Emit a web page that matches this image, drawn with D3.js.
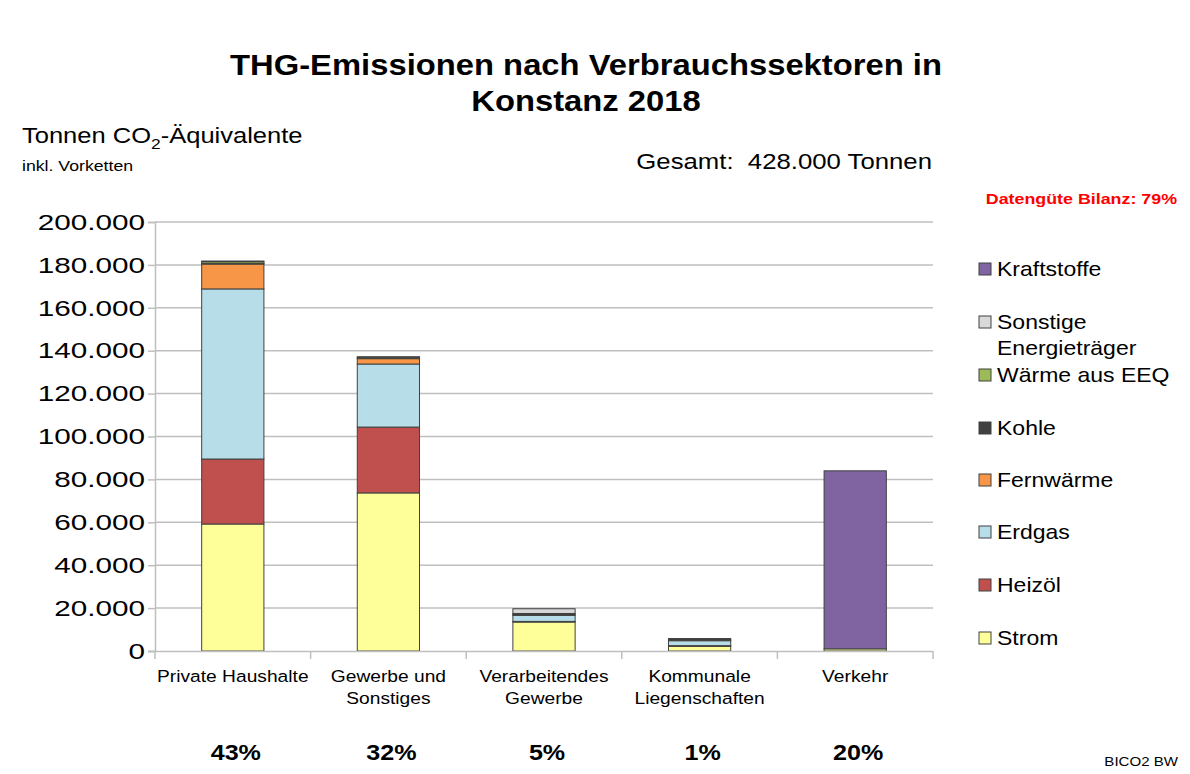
<!DOCTYPE html>
<html><head><meta charset="utf-8">
<script src="https://cdn.jsdelivr.net/npm/d3@7"></script>
<style>body{margin:0;background:#fff}svg{display:block;font-family:Arial,"Liberation Sans",sans-serif}</style>
</head><body><svg id="c" width="1190" height="774"></svg>
<script>
const categories = [["Private Haushalte"],["Gewerbe und","Sonstiges"],["Verarbeitendes","Gewerbe"],["Kommunale","Liegenschaften"],["Verkehr"]];
const catKeys = ["PH","GS","VG","KL","VK"];
const seriesNames = ["Strom","Heizöl","Erdgas","Fernwärme","Kohle","Wärme aus EEQ","Sonstige Energieträger","Kraftstoffe"];
const strom       = [59200, 73700, 13500, 2200, 1000];
const heizoel     = [30300, 30700,   300,  300,    0];
const erdgas      = [79300, 29400,  2800, 2300,    0];
const fernwaerme  = [11600,  2500,   500,  500,    0];
const kohle       = [  300,   200,   400,  500,    0];
const waermeEEQ   = [  800,   400,     0,    0,    0];
const sonstige    = [  300,   300,  2200,    0,    0];
const kraftstoffe = [    0,     0,     0,    0, 83000];
const seriesColors = ["#FFFF99","#C0504D","#B7DEE8","#F79646","#404040","#9BBB59","#D9D9D9","#8064A2"];
const percentLabels = ["43%","32%","5%","1%","20%"];
const yTicks = [0,20000,40000,60000,80000,100000,120000,140000,160000,180000,200000];

const seriesValues = [strom,heizoel,erdgas,fernwaerme,kohle,waermeEEQ,sonstige,kraftstoffe];
const rows = catKeys.map((k,i)=>{const r={key:k};seriesNames.forEach((s,j)=>r[s]=seriesValues[j][i]);return r;});
const stack = d3.stack().keys(seriesNames)(rows);

const svg = d3.select("#c");
const SX = 1.16;
function txt(x,y,str,size,opts={}){
  const t = svg.append("text").attr("transform",`translate(${x},${y}) scale(${opts.sx||SX},1)`)
    .attr("font-size",size).attr("text-anchor",opts.anchor||"start").style("white-space","pre");
  if(opts.bold) t.attr("font-weight","bold");
  if(opts.fill) t.attr("fill",opts.fill);
  if(str!==null) t.text(str);
  return t;
}
const L=155,R=933,T=222,B=651;
const x = d3.scaleBand().domain(catKeys).range([L,R]).paddingInner(0.6).paddingOuter(0.3);
const y = d3.scaleLinear().domain([0,200000]).range([B,T]);
const fmt = v => d3.format(",")(v).replace(/,/g,".");

// title
txt(586,75,"THG-Emissionen nach Verbrauchssektoren in",29,{anchor:"middle",bold:true,sx:1.13});
txt(586,111,"Konstanz 2018",29,{anchor:"middle",bold:true,sx:1.13});

// y unit label
const yl = txt(22,143,null,22);
yl.append("tspan").text("Tonnen CO");
yl.append("tspan").attr("font-size",15).attr("dy",6).text("2");
yl.append("tspan").attr("dy",-6).text("-Äquivalente");
txt(22,171,"inkl. Vorketten",15,{sx:1.18});
txt(932,169,"Gesamt:\u00A0\u00A0428.000 Tonnen",22,{anchor:"end",sx:1.17});
txt(1177,204,"Datengüte Bilanz: 79%",15,{anchor:"end",bold:true,fill:"#FF0000",sx:1.19});

// gridlines
svg.append("g").selectAll("line").data(yTicks.filter(d=>d>0)).join("line")
  .attr("x1",L).attr("x2",R).attr("y1",d=>y(d)).attr("y2",d=>y(d)).attr("stroke","#BFBFBF").attr("stroke-width",1.5);

// y axis
const ya = svg.append("g").attr("transform",`translate(${L},0)`).call(d3.axisLeft(y).tickValues(yTicks).tickFormat(fmt).tickSize(7).tickPadding(4));
ya.selectAll("path,line").attr("stroke","#BFBFBF").attr("stroke-width",1.5);
ya.selectAll("text").attr("font-size",22.5).attr("fill","#000").attr("font-family","Arial, Liberation Sans, sans-serif")
  .attr("x",null).attr("transform","translate(-10,0) scale(1.32,1)");

// bars
svg.append("g").selectAll("g").data(stack).join("g").attr("fill",(d,i)=>seriesColors[i])
  .selectAll("rect").data(d=>d.filter(p=>p[1]-p[0]>0)).join("rect")
  .attr("x",d=>x(d.data.key)).attr("width",x.bandwidth())
  .attr("y",d=>y(d[1])).attr("height",d=>y(d[0])-y(d[1]))
  .attr("stroke","#404040").attr("stroke-width",1);

// x axis
svg.append("line").attr("x1",L-7).attr("x2",R).attr("y1",B+0.5).attr("y2",B+0.5).attr("stroke","#BFBFBF").attr("stroke-width",1.5);
svg.append("g").selectAll("line").data(d3.range(catKeys.length+1)).join("line")
  .attr("x1",i=>L+i*(R-L)/catKeys.length).attr("x2",i=>L+i*(R-L)/catKeys.length)
  .attr("y1",B).attr("y2",B+8).attr("stroke","#BFBFBF").attr("stroke-width",1.5);
catKeys.forEach((k,i)=>{
  const cx = x(k)+x.bandwidth()/2;
  categories[i].forEach((line,j)=>txt(cx,682+j*22,line,17,{anchor:"middle",sx:1.13}));
  txt(cx+3,760,percentLabels[i],22,{anchor:"middle",bold:true,sx:1.14});
});

// legend
const legY = [269,322,375,428,480,532,585,638];
const legOrder = seriesNames.map((s,i)=>i).reverse();
legOrder.forEach((si,j)=>{
  const yy = legY[j];
  svg.append("rect").attr("x",979).attr("y",yy-6).attr("width",12).attr("height",12).attr("fill",seriesColors[si]).attr("stroke","#404040").attr("stroke-width",1);
  const name = seriesNames[si];
  if(name==="Sonstige Energieträger"){
    txt(997,yy+7,"Sonstige",20,{sx:1.15});
    txt(997,yy+33,"Energieträger",20,{sx:1.15});
  } else {
    txt(997,yy+7,name,20,{sx:1.15});
  }
});
txt(1178,766,"BICO2 BW",13,{anchor:"end"});
</script></body></html>
